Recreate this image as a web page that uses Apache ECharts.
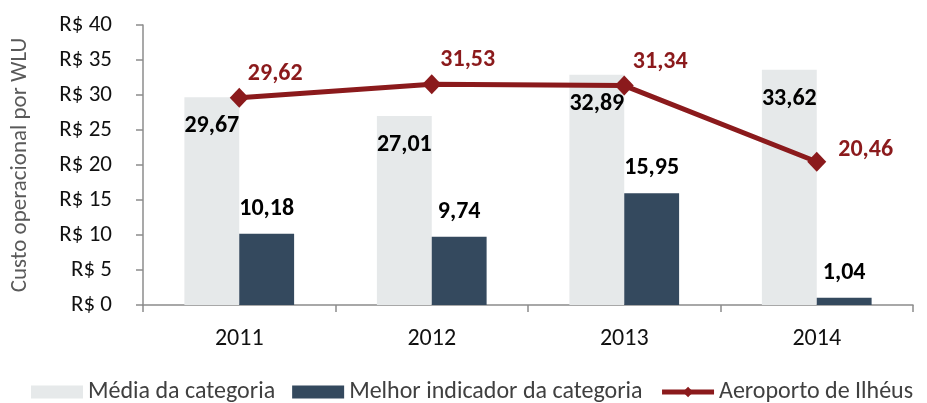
<!DOCTYPE html>
<html>
<head>
<meta charset="utf-8">
<script src="https://cdn.jsdelivr.net/npm/echarts@6/dist/echarts.min.js"></script>
<style>
  html, body { margin: 0; padding: 0; background: #fff; }
  #chart { width: 927px; height: 403px; }
</style>
</head>
<body>
<div id="chart"></div>
<script>
// dados
const anos = ['2011', '2012', '2013', '2014']
const mediaCategoria = [29.67, 27.01, 32.89, 33.62]
const melhorIndicador = [10.18, 9.74, 15.95, 1.04]
const aeroportoIlheus = [29.62, 31.53, 31.34, 20.46]
const yTicks = [0, 5, 10, 15, 20, 25, 30, 35, 40]

const FONT = 'Carlito, Calibri, "Liberation Sans", sans-serif'
const COR_MEDIA = '#e6e9ea'
const COR_MELHOR = '#34495e'
const COR_LINHA = '#8b1a1c'
const COR_EIXO = '#8c8c8c'

// formata com vírgula decimal
const fmt = (v) => v.toFixed(2).replace('.', ',')

const chart = echarts.init(document.getElementById('chart'))

const option = {
  animation: false,
  textStyle: { fontFamily: FONT },
  grid: { left: 143, right: 14, top: 25, bottom: 98, containLabel: false },
  legend: {
    top: 380,
    left: 31,
    width: 896,
    padding: 0,
    itemWidth: 52,
    itemHeight: 13,
    itemGap: 17,
    textStyle: { fontSize: 24, color: '#404040', fontFamily: FONT },
    data: [
      { name: 'Média da categoria', icon: 'rect' },
      { name: 'Melhor indicador da categoria', icon: 'rect' },
      { name: 'Aeroporto de Ilhéus', lineStyle: { width: 5 } },
    ],
  },
  xAxis: {
    type: 'category',
    data: anos,
    axisLine: { lineStyle: { color: COR_EIXO, width: 1.5 } },
    axisTick: { show: true, length: 7, lineStyle: { color: COR_EIXO, width: 1.5 } },
    axisLabel: { fontSize: 24, color: '#111', margin: 22, fontFamily: FONT },
  },
  yAxis: {
    type: 'value',
    min: yTicks[0],
    max: yTicks[yTicks.length - 1],
    interval: 5,
    name: 'Custo operacional por WLU',
    nameLocation: 'middle',
    nameGap: 111,
    nameTextStyle: { fontSize: 23, color: '#595959', fontFamily: FONT },
    axisLine: { show: true, lineStyle: { color: COR_EIXO, width: 1.5 } },
    axisTick: { show: true, length: 7, lineStyle: { color: COR_EIXO, width: 1.5 } },
    splitLine: { show: false },
    axisLabel: {
      fontSize: 23,
      color: '#111',
      margin: 31,
      fontFamily: FONT,
      formatter: (v) => 'R$ ' + v,
    },
  },
  series: [
    {
      name: 'Média da categoria',
      type: 'bar',
      data: mediaCategoria,
      barGap: '0%',
      barCategoryGap: '43%',
      itemStyle: { color: COR_MEDIA },
      label: {
        show: true,
        position: 'insideTop',
        distance: 17,
        fontSize: 24,
        fontWeight: 'bold',
        color: '#000',
        fontFamily: FONT,
        formatter: (p) => fmt(p.value),
      },
    },
    {
      name: 'Melhor indicador da categoria',
      type: 'bar',
      data: melhorIndicador,
      itemStyle: { color: COR_MELHOR },
      label: {
        show: true,
        position: 'top',
        distance: 13,
        fontSize: 24,
        fontWeight: 'bold',
        color: '#000',
        fontFamily: FONT,
        formatter: (p) => fmt(p.value),
      },
    },
    {
      name: 'Aeroporto de Ilhéus',
      type: 'line',
      data: aeroportoIlheus.map((v, i) =>
        i === aeroportoIlheus.length - 1
          ? { value: v, label: { position: 'right', distance: 12, offset: [0, -12] } }
          : v
      ),
      symbol: 'diamond',
      symbolSize: [19, 20],
      z: 5,
      lineStyle: { color: COR_LINHA, width: 5 },
      itemStyle: { color: COR_LINHA },
      label: {
        show: true,
        position: 'top',
        distance: 2,
        offset: [36, 0],
        fontSize: 24,
        fontWeight: 'bold',
        color: COR_LINHA,
        fontFamily: FONT,
        formatter: (p) => fmt(p.value),
      },
    },
  ],
}

chart.setOption(option)
</script>
</body>
</html>
